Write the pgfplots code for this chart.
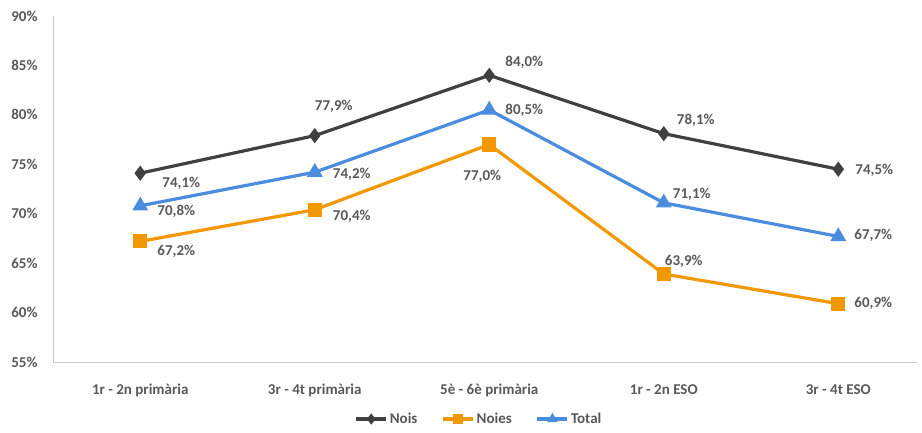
\documentclass[border=0pt]{standalone}
\usepackage{pgfplots}
\pgfplotsset{compat=1.18}
\usepackage{fontspec}
\setmainfont{Carlito}
\definecolor{cnois}{RGB}{64,64,64}
\definecolor{cnoies}{RGB}{243,152,0}
\definecolor{ctotal}{RGB}{74,140,222}
\definecolor{ctxt}{RGB}{89,89,89}
\definecolor{caxis}{RGB}{200,200,200}
\newcommand{\lbl}{\bfseries\fontsize{15}{17}\selectfont}
\begin{document}
\begin{tikzpicture}
\useasboundingbox (-53pt,-70pt) rectangle (869pt,362pt);
\begin{axis}[
  scale only axis,
  width=864pt, height=346pt,
  xmin=-0.5, xmax=4.451,
  ymin=55, ymax=90,
  ytick={55,60,65,70,75,80,85,90},
  yticklabel={\pgfmathprintnumber{\tick}\%},
  xtick={0,1,2,3,4},
  xticklabels={1r - 2n primària,3r - 4t primària,5è - 6è primària,1r - 2n ESO,3r - 4t ESO},
  axis x line*=bottom, axis y line*=left,
  axis line style={caxis, line width=0.8pt, -},
  major tick length=0pt,
  tick label style={font=\lbl, text=ctxt},
  yticklabel style={anchor=east, xshift=-12pt},
  xticklabel style={anchor=center, yshift=-28pt},
  /pgf/number format/assume math mode=true,
  legend style={at={(0.5,0pt)}, anchor=center, xshift=-6pt, yshift=-57pt, draw=none,
    font=\lbl, text=ctxt,
    /tikz/every even column/.append style={column sep=22pt}},
  legend columns=3,
  legend image code/.code={\draw[#1, mark size=3pt, mark repeat=2, mark phase=2] plot coordinates {(0pt,0pt) (15pt,0pt) (30pt,0pt)};},
  every axis plot/.append style={line width=3.2pt},
  clip=false,
]
\addplot[cnois, mark=diamond*, mark size=5pt] coordinates {(0,74.1) (1,77.9) (2,84.0) (3,78.1) (4,74.5)};
\addlegendentry{Nois}
\addplot[cnoies, mark=square*, mark size=5.5pt] coordinates {(0,67.2) (1,70.4) (2,77.0) (3,63.9) (4,60.9)};
\addlegendentry{Noies}
\addplot[ctotal, mark=triangle*, mark size=6pt] coordinates {(0,70.8) (1,74.2) (2,80.5) (3,71.1) (4,67.7)};
\addlegendentry{Total}
\begin{scope}[every node/.style={font=\lbl, text=ctxt, anchor=center, inner sep=0pt}]
% Nois
\node at (axis cs:0,74.1) [xshift=41pt,yshift=-10pt] {74,1\%};
\node at (axis cs:1,77.9) [xshift=19pt,yshift=29pt] {77,9\%};
\node at (axis cs:2,84.0) [xshift=35pt,yshift=13pt] {84,0\%};
\node at (axis cs:3,78.1) [xshift=32pt,yshift=13pt] {78,1\%};
\node at (axis cs:4,74.5) [xshift=36pt,yshift=-1pt] {74,5\%};
% Noies
\node at (axis cs:0,67.2) [xshift=36pt,yshift=-10pt] {67,2\%};
\node at (axis cs:1,70.4) [xshift=37pt,yshift=-7pt] {70,4\%};
\node at (axis cs:2,77.0) [xshift=-7pt,yshift=-32pt] {77,0\%};
\node at (axis cs:3,63.9) [xshift=20pt,yshift=13pt] {63,9\%};
\node at (axis cs:4,60.9) [xshift=35pt,yshift=0pt] {60,9\%};
% Total
\node at (axis cs:0,70.8) [xshift=36pt,yshift=-6pt] {70,8\%};
\node at (axis cs:1,74.2) [xshift=37pt,yshift=-2pt] {74,2\%};
\node at (axis cs:2,80.5) [xshift=35pt,yshift=0pt] {80,5\%};
\node at (axis cs:3,71.1) [xshift=28pt,yshift=8pt] {71,1\%};
\node at (axis cs:4,67.7) [xshift=35pt,yshift=1pt] {67,7\%};
\end{scope}
\end{axis}
\end{tikzpicture}
\end{document}
